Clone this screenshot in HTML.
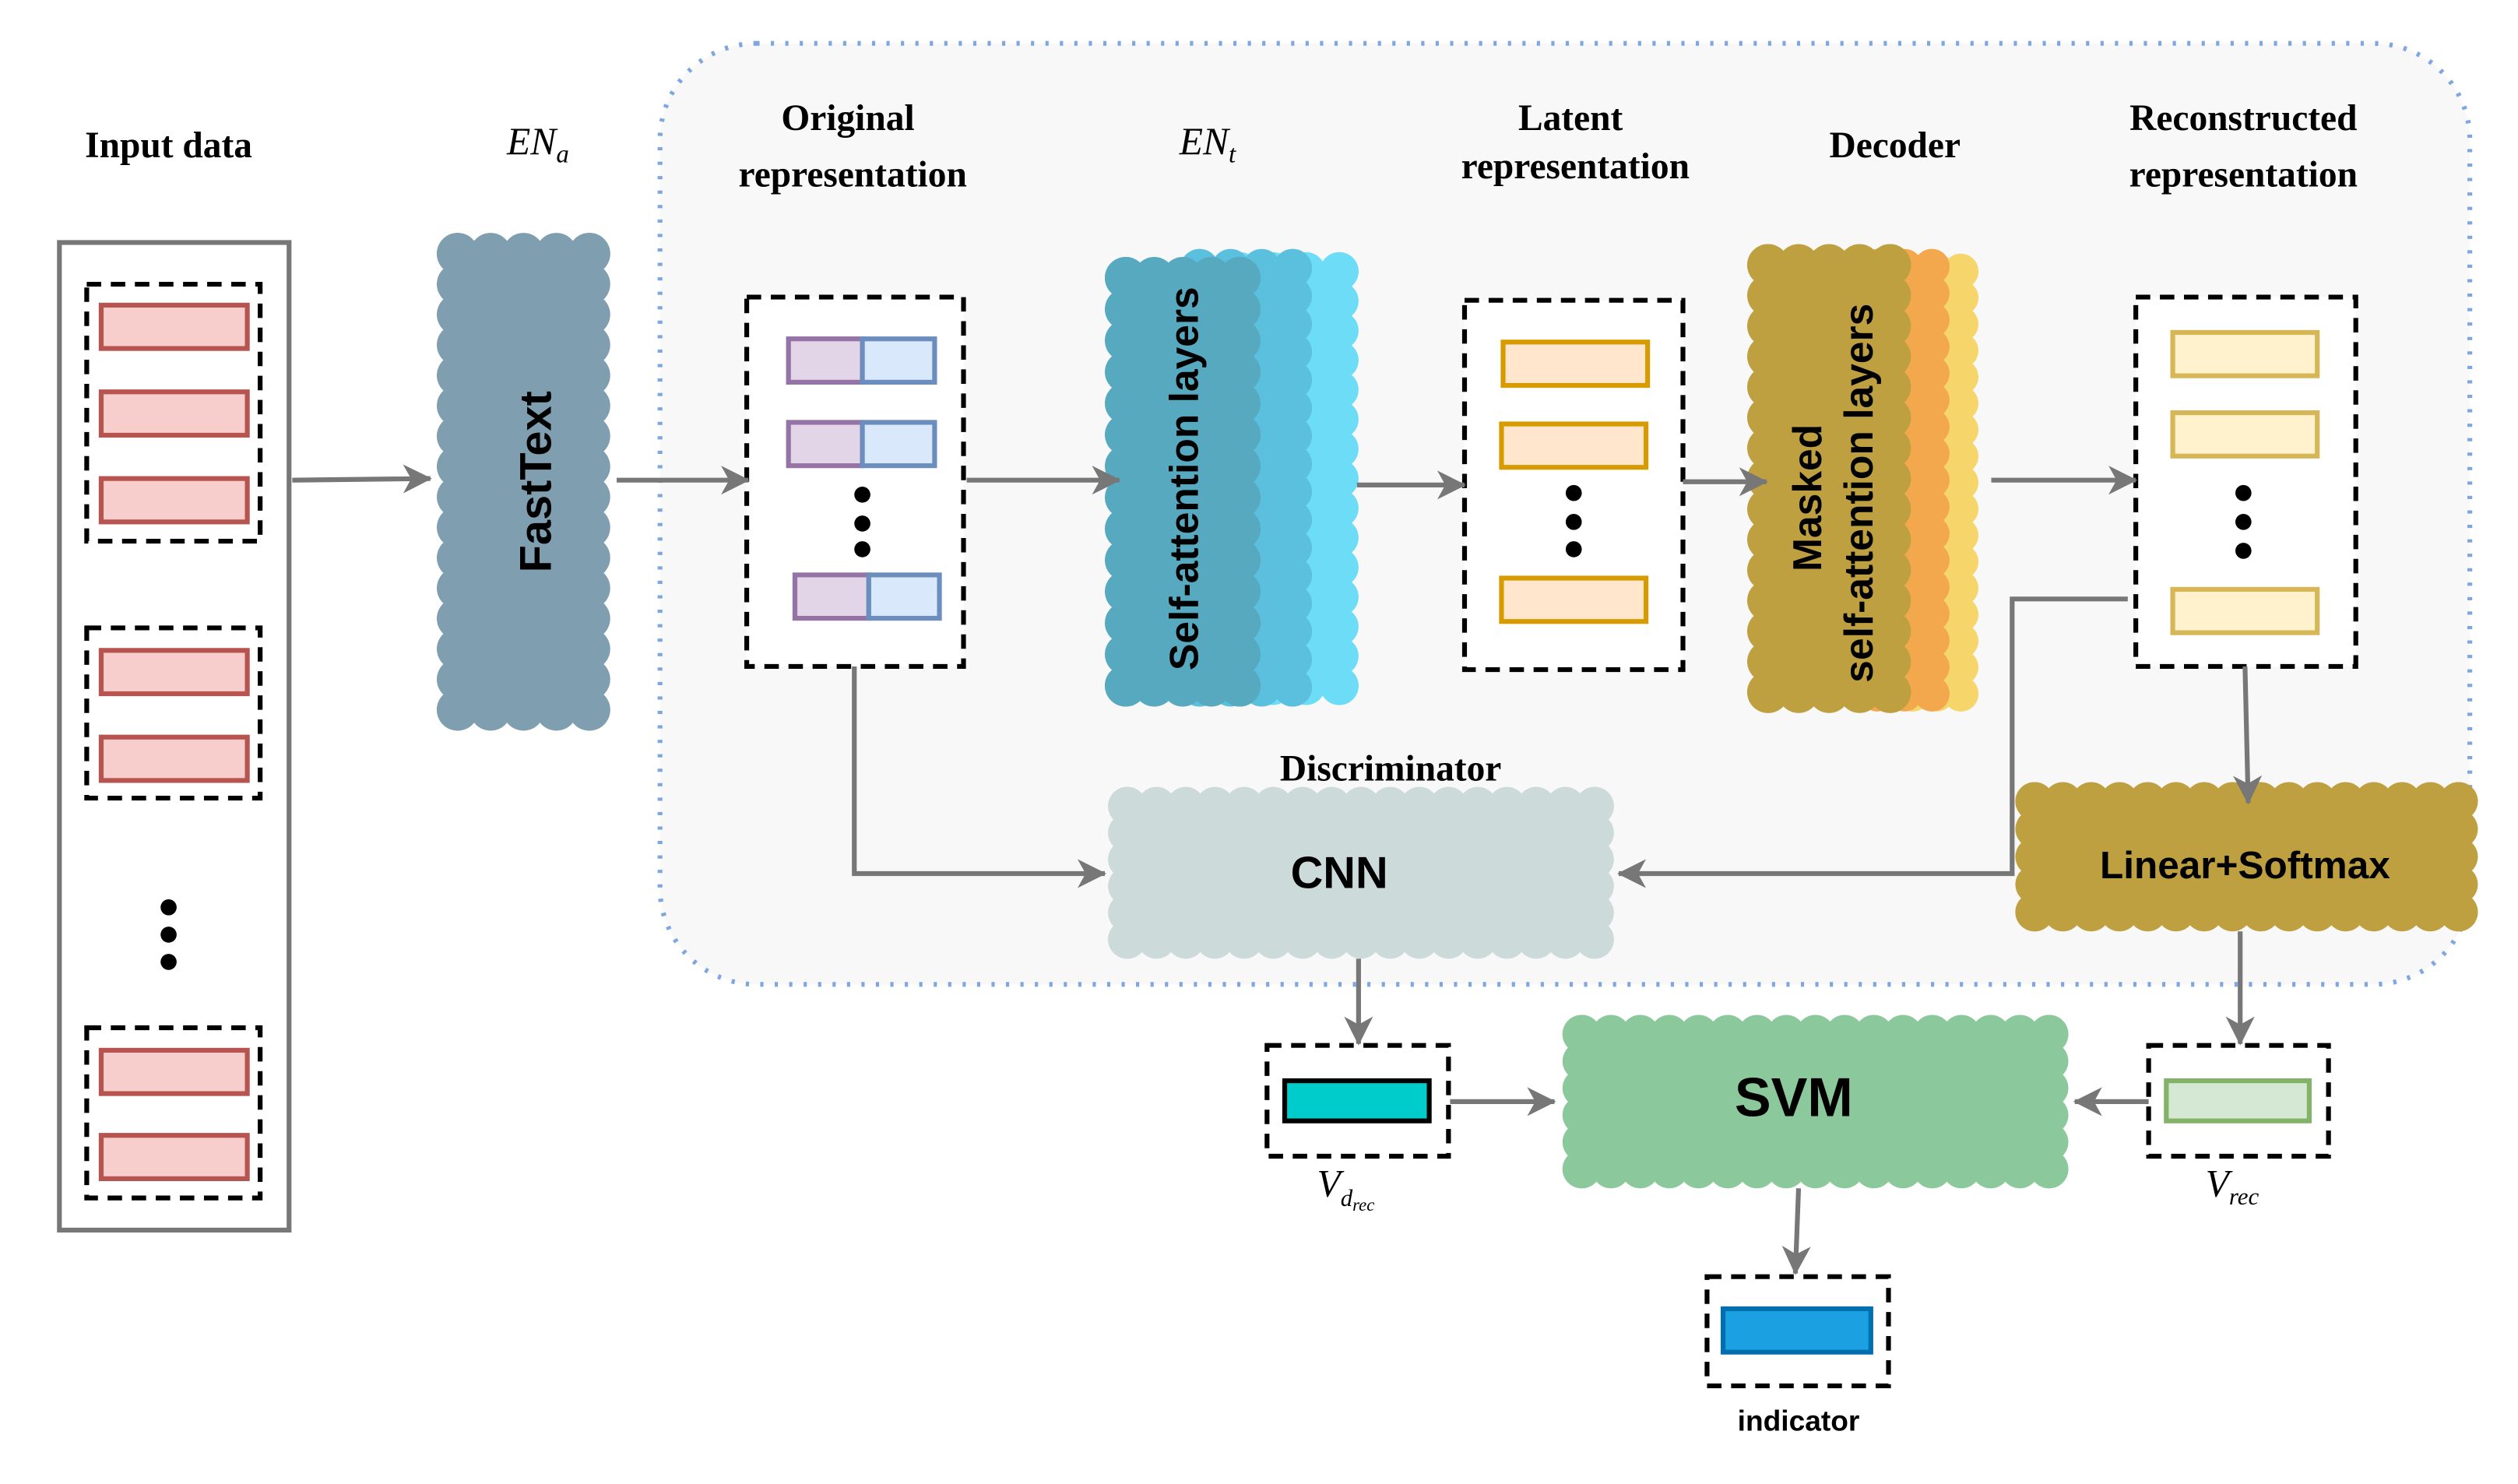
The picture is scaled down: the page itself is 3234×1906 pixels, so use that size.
<!DOCTYPE html>
<html><head><meta charset="utf-8"><style>
html,body{margin:0;padding:0;background:#fff;}
svg{display:block}
.s{font-family:"Liberation Serif",serif;font-weight:bold;font-size:23px;text-anchor:middle;fill:#000}
.b{font-family:"Liberation Sans",sans-serif;font-weight:bold;text-anchor:middle;fill:#000}
.i{font-family:"Liberation Serif",serif;font-style:italic;font-size:24px;text-anchor:middle}
</style></head><body>
<svg id="sv" width="3234" height="1906" viewBox="0 0 1568 924.1" xmlns="http://www.w3.org/2000/svg">
<defs>
<marker id="ab" markerWidth="18" markerHeight="18" refX="17" refY="9" orient="auto" markerUnits="userSpaceOnUse" viewBox="0 0 18 18"><path d="M0,0 L18,9 L0,18 L5,9 Z" fill="#777"/></marker></defs>
<rect x="0" y="0" width="1568" height="925" fill="#fff"/>
<rect x="411" y="27" width="1127" height="586" rx="60" fill="#f8f8f8" stroke="#7ea6e0" stroke-width="3" stroke-dasharray="2 7"/>
<g id="clouds"></g>
<text class="s" x="105" y="98">Input data</text>
<rect x="37" y="151" width="143" height="615" fill="#fff" stroke="#777" stroke-width="3"/>
<g fill="none" stroke="#000" stroke-width="3" stroke-dasharray="9 6">
<rect x="54" y="177" width="108" height="160"/><rect x="54" y="391" width="108" height="106"/><rect x="54" y="640" width="108" height="106"/>
<rect x="465" y="185" width="135" height="230" fill="#fff"/><rect x="912" y="187" width="136" height="230" fill="#fff"/><rect x="1330" y="185" width="137" height="230" fill="#fff"/>
<rect x="789" y="651" width="113" height="69" fill="#fff"/><rect x="1338" y="651" width="112" height="69" fill="#fff"/><rect x="1063" y="795" width="113" height="68" fill="#fff"/>
</g>
<g fill="#f8cecc" stroke="#b85450" stroke-width="3">
<rect x="63" y="190" width="91" height="27"/><rect x="63" y="244" width="91" height="27"/><rect x="63" y="298" width="91" height="27"/>
<rect x="63" y="405" width="91" height="27"/><rect x="63" y="459" width="91" height="27"/><rect x="63" y="654" width="91" height="27"/><rect x="63" y="707" width="91" height="27"/></g>
<g fill="#000"><circle cx="105" cy="565" r="5"/><circle cx="105" cy="582" r="5"/><circle cx="105" cy="599" r="5"/>
<circle cx="537" cy="308" r="5"/><circle cx="537" cy="326" r="5"/><circle cx="537" cy="342" r="5"/>
<circle cx="980" cy="307" r="5"/><circle cx="980" cy="325" r="5"/><circle cx="980" cy="342" r="5"/>
<circle cx="1397" cy="307" r="5"/><circle cx="1397" cy="325" r="5"/><circle cx="1397" cy="343" r="5"/></g>
<text class="i" x="335" y="96">EN<tspan font-size="16" dy="5">a</tspan></text>
<text class="i" x="752" y="96">EN<tspan font-size="16" dy="5">t</tspan></text>
<text class="s" x="528" y="81">Original</text><text class="s" x="531" y="116">representation</text>
<text class="s" x="978" y="81">Latent</text><text class="s" x="981" y="111">representation</text>
<text class="s" x="1180" y="98">Decoder</text>
<text class="s" x="1397" y="81">Reconstructed</text><text class="s" x="1397" y="116">representation</text>
<text class="s" x="866" y="486">Discriminator</text>
<g stroke-width="3"><g fill="#e1d5e7" stroke="#9673a6"><rect x="491" y="211" width="46" height="27"/><rect x="491" y="263" width="46" height="27"/><rect x="495" y="358" width="46" height="27"/></g>
<g fill="#dae8fc" stroke="#6c8ebf"><rect x="537" y="211" width="45" height="27"/><rect x="537" y="263" width="45" height="27"/><rect x="541" y="358" width="44" height="27"/></g>
<g fill="#ffe6cc" stroke="#d79b00"><rect x="936" y="213" width="90" height="27"/><rect x="935" y="264" width="90" height="27"/><rect x="935" y="360" width="90" height="27"/></g>
<g fill="#fff2cc" stroke="#d6b656"><rect x="1353" y="207" width="90" height="27"/><rect x="1353" y="257" width="90" height="27"/><rect x="1353" y="367" width="90" height="27"/></g>
<rect x="800" y="673" width="90" height="25" fill="#00cccc" stroke="#000"/>
<rect x="1349" y="673" width="89" height="25" fill="#d5e8d4" stroke="#82b366"/>
<rect x="1073" y="815" width="92" height="27" fill="#1ba1e2" stroke="#006eaf"/></g>
<g fill="none" stroke="#777" stroke-width="3">
<path d="M182,299 L268,298" marker-end="url(#ab)"/>
<path d="M384,299 L466,299" marker-end="url(#ab)"/>
<path d="M602,299 L697,299" marker-end="url(#ab)"/>
<path d="M845,302 L912,302" marker-end="url(#ab)"/>
<path d="M1048,300 L1100,300" marker-end="url(#ab)"/>
<path d="M1240,299 L1330,299" marker-end="url(#ab)"/>
<path d="M1325,373 L1253,373 L1253,544 L1008,544" marker-end="url(#ab)"/>
<path d="M1398,415 L1400,500" marker-end="url(#ab)"/>
<path d="M532,415 L532,544 L688,544" marker-end="url(#ab)"/>
<path d="M846,597 L846,650" marker-end="url(#ab)"/>
<path d="M903,686 L968,686" marker-end="url(#ab)"/>
<path d="M1338,686 L1292,686" marker-end="url(#ab)"/>
<path d="M1395,580 L1395,650" marker-end="url(#ab)"/>
<path d="M1120,740 L1118,793" marker-end="url(#ab)"/>
</g>
<g id="labels">
<text class="b" font-size="28" transform="translate(343,300) rotate(-90)">FastText</text>
<text class="b" font-size="25" transform="translate(746,298) rotate(-90)">Self-attention layers</text>
<text class="b" font-size="25" transform="translate(1134,310) rotate(-90)">Masked</text>
<text class="b" font-size="25" transform="translate(1166,307) rotate(-90)">self-attention layers</text>
<text class="b" font-size="28" x="834" y="553">CNN</text>
<text class="b" font-size="24" x="1398" y="547">Linear+Softmax</text>
<text class="b" font-size="34" x="1117" y="695">SVM</text>
<text class="b" font-size="18" x="1120" y="891">indicator</text>
</g>
<text class="i" x="838" y="745">V<tspan font-size="15" dy="6">d</tspan><tspan font-size="11" dy="3">rec</tspan></text>
<text class="i" x="1390" y="745">V<tspan font-size="15" dy="5">rec</tspan></text>
</svg>
<script>
var g=document.getElementById('clouds'),NS='http://www.w3.org/2000/svg';
function cloud(x,y,w,h,fill,r){var e=document.createElementNS(NS,'g');e.setAttribute('fill',fill);
function c(cx,cy){var k=document.createElementNS(NS,'circle');k.setAttribute('cx',cx);k.setAttribute('cy',cy);k.setAttribute('r',r);e.appendChild(k);}
var q=document.createElementNS(NS,'rect');q.setAttribute('x',x+r*0.6);q.setAttribute('y',y+r*0.6);q.setAttribute('width',w-r*1.2);q.setAttribute('height',h-r*1.2);e.appendChild(q);
var n=Math.max(2,Math.round((h-2*r)/(r*1.5)));for(var i=0;i<=n;i++){var yy=y+r+(h-2*r)*i/n;c(x+r,yy);c(x+w-r,yy);}
n=Math.max(2,Math.round((w-2*r)/(r*1.5)));for(i=0;i<=n;i++){var xx=x+r+(w-2*r)*i/n;c(xx,y+r);c(xx,y+h-r);}
g.appendChild(e);}
cloud(272,145,108,310,'#7f9eaf',13);
cloud(760,157,86,282,'#6ddcf7',12);
cloud(735,155,82,285,'#5bc0de',12);
cloud(688,160,97,280,'#57a9c0',13);
cloud(1180,158,52,285,'#f6d56b',11);
cloud(1158,155,56,288,'#f4a84e',11);
cloud(1088,152,102,292,'#bfa040',13);
cloud(690,490,315,107,'#ccdada',12);
cloud(1255,487,288,93,'#bfa040',12);
cloud(973,632,315,108,'#8bc89b',12);
</script>
</body></html>
